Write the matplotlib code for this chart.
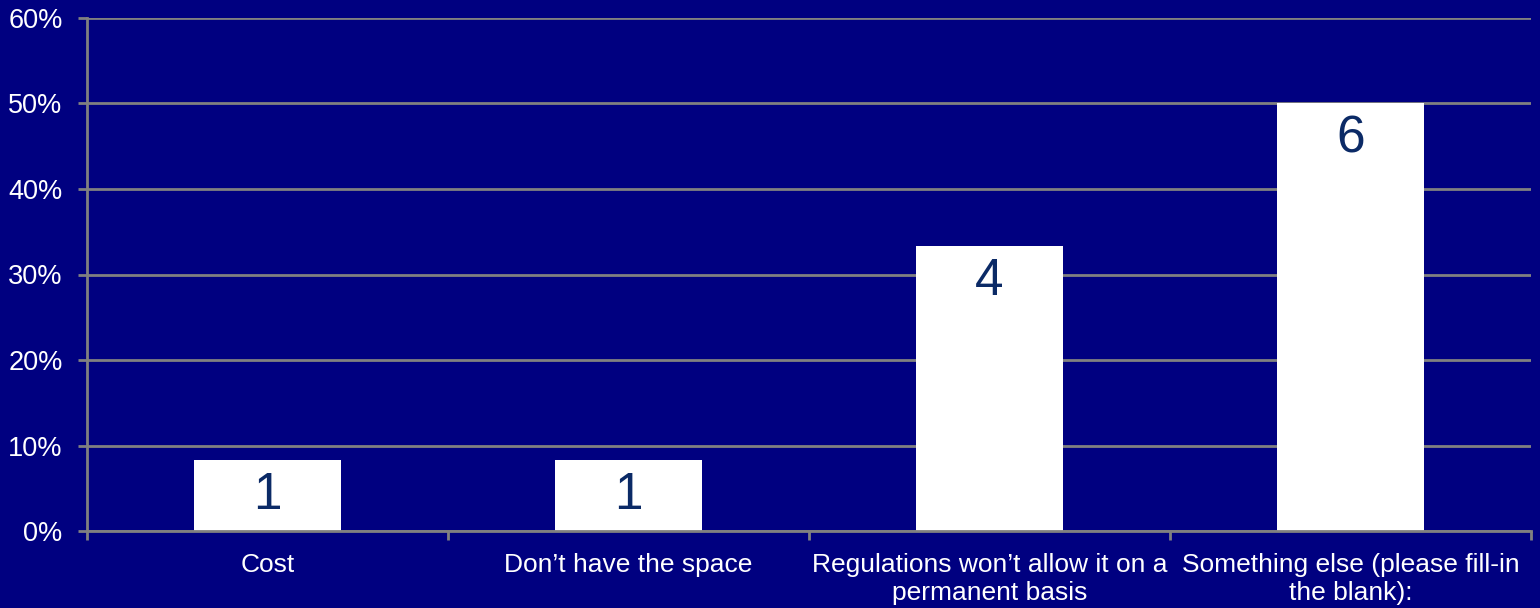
import matplotlib.pyplot as plt
import numpy as np
from matplotlib.ticker import FixedLocator, PercentFormatter

plt.rcParams['font.family'] = ['Liberation Sans', 'DejaVu Sans']

categories = ["Cost", "Don\u2019t have the space",
              "Regulations won\u2019t allow it on a\npermanent basis",
              "Something else (please fill-in\nthe blank):"]
counts = [1, 1, 4, 6]
total = 12
shares = [c / total * 100 for c in counts]

navy = '#000080'
grid_grey = '#808080'
label_col = '#0B2A66'

fig = plt.figure(figsize=(15.4, 6.08), dpi=100, facecolor=navy)
ax = fig.add_axes([87/1540, 1-531/608, 1444/1540, 513/608])
ax.set_facecolor(navy)

x = np.arange(len(categories))
bars = ax.bar(x, shares, width=0.405, color='white', zorder=3)

for b, c in zip(bars, counts):
    ax.text(b.get_x() + b.get_width()/2, b.get_height() - 1.3, str(c),
            ha='center', va='top', fontsize=37, color=label_col, zorder=4)

ax.set_xlim(-0.5, len(categories) - 0.5)
ax.set_ylim(0, 60)
ax.set_yticks(np.arange(0, 61, 10))
ax.yaxis.set_major_formatter(PercentFormatter(decimals=0))
ax.grid(axis='y', color=grid_grey, linewidth=2, zorder=1)

ax.set_xticks(x)
ax.set_xticklabels(categories, linespacing=1.22)
ax.xaxis.set_minor_locator(FixedLocator(np.arange(-0.5, len(categories), 1)))
ax.tick_params(axis='x', which='major', length=0, pad=16, labelsize=19, labelcolor='white')
ax.tick_params(axis='x', which='minor', length=6.5, width=2, color=grid_grey)
ax.tick_params(axis='y', length=6.5, width=2, color=grid_grey, pad=11,
               labelsize=19.5, labelcolor='white')

for s in ['top', 'right']:
    ax.spines[s].set_visible(False)
for s in ['left', 'bottom']:
    ax.spines[s].set_color(grid_grey)
    ax.spines[s].set_linewidth(2)
    ax.spines[s].set_zorder(5)

fig.savefig('out.png', dpi=100, facecolor=navy)
